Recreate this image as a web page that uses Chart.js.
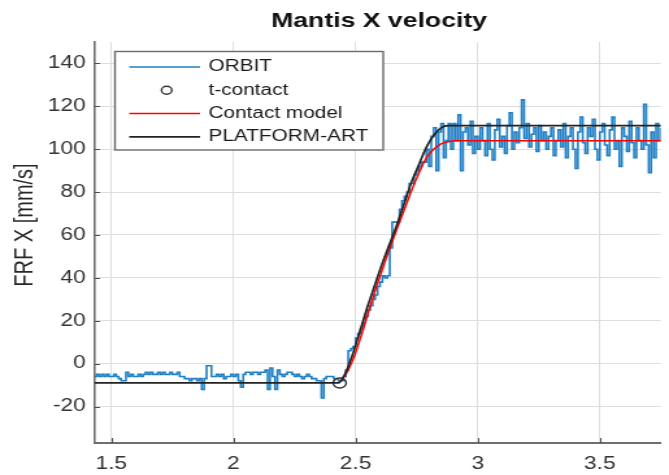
<!DOCTYPE html>
<html lang="en">
<head>
<meta charset="UTF-8">
<title>Mantis X velocity</title>
<script src="https://cdn.jsdelivr.net/npm/chart.js"></script>
<style>
  html, body { margin: 0; padding: 0; background: #fff; overflow: hidden; }
  /* figure is drawn narrow and stretched sideways, like the exported plot */
  #wrap { width: 515px; height: 475px; transform: scaleX(1.299); transform-origin: 0 0; }
</style>
</head>
<body>
<div id="wrap"><canvas id="chart" width="515" height="475"></canvas></div>
<script>
// ORBIT samples, 10 ms apart starting at t = 1.40 s
const orbitStart = 1.40;
const orbitStep = 0.01;
const orbitValues = [
  -6, -5, -6, -6, -5, -6, -5, -6, -5, -6,      // 1.40
  -6, -5, -6, -7, -8, -8, -4, -6, -5, -6,      // 1.50
  -6, -5, -6, -5, -4, -5, -4, -5, -5, -4,      // 1.60
  -5, -4, -5, -5, -4, -5, -5, -4, -6, -6,      // 1.70
  -7, -7, -8, -7, -7, -8, -7, -12, -7, -1,     // 1.80
  -1, -6, -6, -5, -6, -5, -7, -6, -6, -5,      // 1.90
  -6, -5, -8, -11, -5, -4, -4, -5, -4, -4,     // 2.00
  -5, -4, -4, -3, -12, -2, -6, -12, -3, -5,    // 2.10
  -6, -5, -4, -4, -5, -6, -5, -6, -7, -6,      // 2.20
  -5, -6, -7, -7, -8, -8, -16, -7, -6, -6,     // 2.30
  -6, -7, -7, -8, -8, -6, -3, 6, 7, 8,         // 2.40
  12, 14, 16, 19, 22, 25, 27, 30, 32, 36,      // 2.50
  38, 41, 40, 41, 54, 66, 66, 66, 72, 76,      // 2.60
  78, 80, 84, 84, 88, 90, 92, 94, 94, 100,     // 2.70
  92, 106, 110, 90, 108, 112, 96, 104, 112, 100,   // 2.80
  112, 104, 116, 90, 108, 110, 102, 113, 98, 106,  // 2.90
  100, 110, 104, 97, 112, 100, 95, 109, 114, 101,  // 3.00
  106, 98, 111, 117, 100, 108, 103, 110, 123, 105, // 3.10
  112, 101, 107, 110, 99, 111, 104, 108, 100, 106, // 3.20
  110, 97, 104, 109, 101, 112, 96, 106, 110, 100,  // 3.30
  91, 108, 115, 103, 98, 110, 106, 114, 100, 95,   // 3.40
  108, 112, 102, 97, 109, 115, 100, 104, 92, 110,  // 3.50
  106, 99, 113, 103, 96, 110, 104, 100, 121, 102,  // 3.60
  89, 108, 96, 112, 104, 110, 100, 106, 98, 108    // 3.70
];

// contact instant
const tContact = [2.435];
const tContactValue = [-9];

// contact model response
const modelTime = [2.43, 2.46, 2.49, 2.52, 2.55, 2.58, 2.61, 2.64, 2.67, 2.70, 2.73, 2.76, 2.79, 2.82, 2.85, 2.88, 2.91, 3.80];
const modelValues = [-9, -5, 2, 12, 23, 34, 44, 54, 63, 72, 81, 89, 96, 100, 102.5, 103.5, 104, 104];

// PLATFORM-ART reference
const platformTime = [1.40, 2.43, 2.46, 2.49, 2.52, 2.55, 2.58, 2.61, 2.64, 2.67, 2.70, 2.73, 2.76, 2.79, 2.82, 2.85, 2.88, 3.80];
const platformValues = [-9, -9, -4, 5, 16, 27, 37, 47, 56, 65, 75, 85, 93, 101, 106.5, 110, 111, 111];

const xTicks = [1.5, 2, 2.5, 3, 3.5];
const yTicks = [-20, 0, 20, 40, 60, 80, 100, 120, 140];

const FONT = '"Liberation Sans", Arial, sans-serif';
Chart.defaults.font.family = FONT;

const toPoints = (xs, ys) => xs.map((x, i) => ({ x: x, y: ys[i] }));
const orbitPoints = orbitValues.map((v, i) => ({ x: +(orbitStart + i * orbitStep).toFixed(2), y: v }));

// title, axis label, inward ticks and the boxed legend
const overlay = {
  id: 'overlay',
  afterDraw(chart) {
    const ctx = chart.ctx;
    const area = chart.chartArea;
    const xs = chart.scales.x, ys = chart.scales.y;
    ctx.save();

    ctx.strokeStyle = '#4d4d4d';
    ctx.lineWidth = 1;
    ctx.beginPath();
    yTicks.forEach(v => {
      const p = Math.round(ys.getPixelForValue(v)) + 0.5;
      ctx.moveTo(area.left, p);
      ctx.lineTo(area.left + 4, p);
    });
    xTicks.forEach(v => {
      const p = Math.round(xs.getPixelForValue(v)) + 0.5;
      ctx.moveTo(p, area.bottom);
      ctx.lineTo(p, area.bottom - 5);
    });
    ctx.stroke();

    ctx.fillStyle = '#111';
    ctx.font = 'bold 20.5px ' + FONT;
    ctx.textAlign = 'center';
    ctx.textBaseline = 'alphabetic';
    ctx.fillText('Mantis X velocity', (area.left + area.right) / 2 + 1, 27);

    ctx.save();
    ctx.translate(19.5, 225);
    ctx.rotate(-Math.PI / 2);
    ctx.fillStyle = '#262626';
    ctx.font = '20px ' + FONT;
    ctx.textBaseline = 'middle';
    ctx.fillText('FRF X [mm/s]', 0, 0);
    ctx.restore();

    // legend
    const box = { left: 88.5, top: 51.5, width: 206.5, height: 98.5 };
    ctx.fillStyle = '#fff';
    ctx.fillRect(box.left, box.top, box.width, box.height);
    ctx.strokeStyle = '#6a6a6a';
    ctx.lineWidth = 1.4;
    ctx.strokeRect(box.left, box.top, box.width, box.height);

    ctx.font = '16px ' + FONT;
    ctx.textAlign = 'left';
    ctx.textBaseline = 'middle';
    chart.data.datasets.forEach((ds, i) => {
      const y = 67 + i * 23.3;
      if (ds.showLine === false) {
        ctx.beginPath();
        ctx.arc(128.3, y, 4, 0, Math.PI * 2);
        ctx.strokeStyle = ds.borderColor;
        ctx.lineWidth = ds.pointBorderWidth;
        ctx.stroke();
      } else {
        ctx.beginPath();
        ctx.moveTo(99.5, y);
        ctx.lineTo(154, y);
        ctx.strokeStyle = ds.borderColor;
        ctx.lineWidth = ds.borderWidth;
        ctx.stroke();
      }
      ctx.fillStyle = '#1a1a1a';
      ctx.fillText(ds.label, 160.5, y);
    });

    ctx.restore();
  }
};

const tickFont = { size: 17.5 };

new Chart(document.getElementById('chart'), {
  type: 'line',
  data: {
    datasets: [
      {
        label: 'ORBIT',
        data: orbitPoints,
        borderColor: '#1f7fc4',
        borderWidth: 1.6,
        stepped: true,
        pointRadius: 0,
        order: 4
      },
      {
        label: 't-contact',
        data: toPoints(tContact, tContactValue),
        showLine: false,
        borderColor: '#333333',
        backgroundColor: 'rgba(0,0,0,0)',
        pointRadius: 5,
        pointBorderWidth: 1.4,
        order: 3
      },
      {
        label: 'Contact model',
        data: toPoints(modelTime, modelValues),
        borderColor: '#FF0000',
        borderWidth: 1.5,
        cubicInterpolationMode: 'monotone',
        pointRadius: 0,
        order: 2
      },
      {
        label: 'PLATFORM-ART',
        data: toPoints(platformTime, platformValues),
        borderColor: '#222222',
        borderWidth: 1.7,
        cubicInterpolationMode: 'monotone',
        pointRadius: 0,
        order: 1
      }
    ]
  },
  options: {
    responsive: false,
    animation: false,
    devicePixelRatio: 1,
    events: [],
    layout: { padding: { top: 42, right: 0, bottom: 0, left: 0 } },
    plugins: {
      legend: { display: false },
      title: { display: false },
      tooltip: { enabled: false }
    },
    scales: {
      x: {
        type: 'linear',
        min: 1.4326,
        max: 3.749,
        border: { color: '#6e6e6e', width: 2 },
        grid: { color: '#dedede', lineWidth: 1, drawTicks: false },
        ticks: {
          font: tickFont,
          color: '#333',
          padding: 11,
          maxRotation: 0,
          autoSkip: false,
          callback: v => String(v)
        },
        afterBuildTicks: scale => { scale.ticks = xTicks.map(v => ({ value: v })); },
        afterFit: scale => { scale.height = 32; }
      },
      y: {
        min: -37,
        max: 150,
        border: { color: '#6e6e6e', width: 1.6 },
        grid: { color: '#dedede', lineWidth: 1, drawTicks: false },
        ticks: {
          font: tickFont,
          color: '#333',
          padding: 7,
          autoSkip: false,
          callback: v => String(v)
        },
        afterBuildTicks: scale => { scale.ticks = yTicks.map(v => ({ value: v })); },
        afterFit: scale => { scale.width = 73; }
      }
    }
  },
  plugins: [overlay]
});
</script>
</body>
</html>
